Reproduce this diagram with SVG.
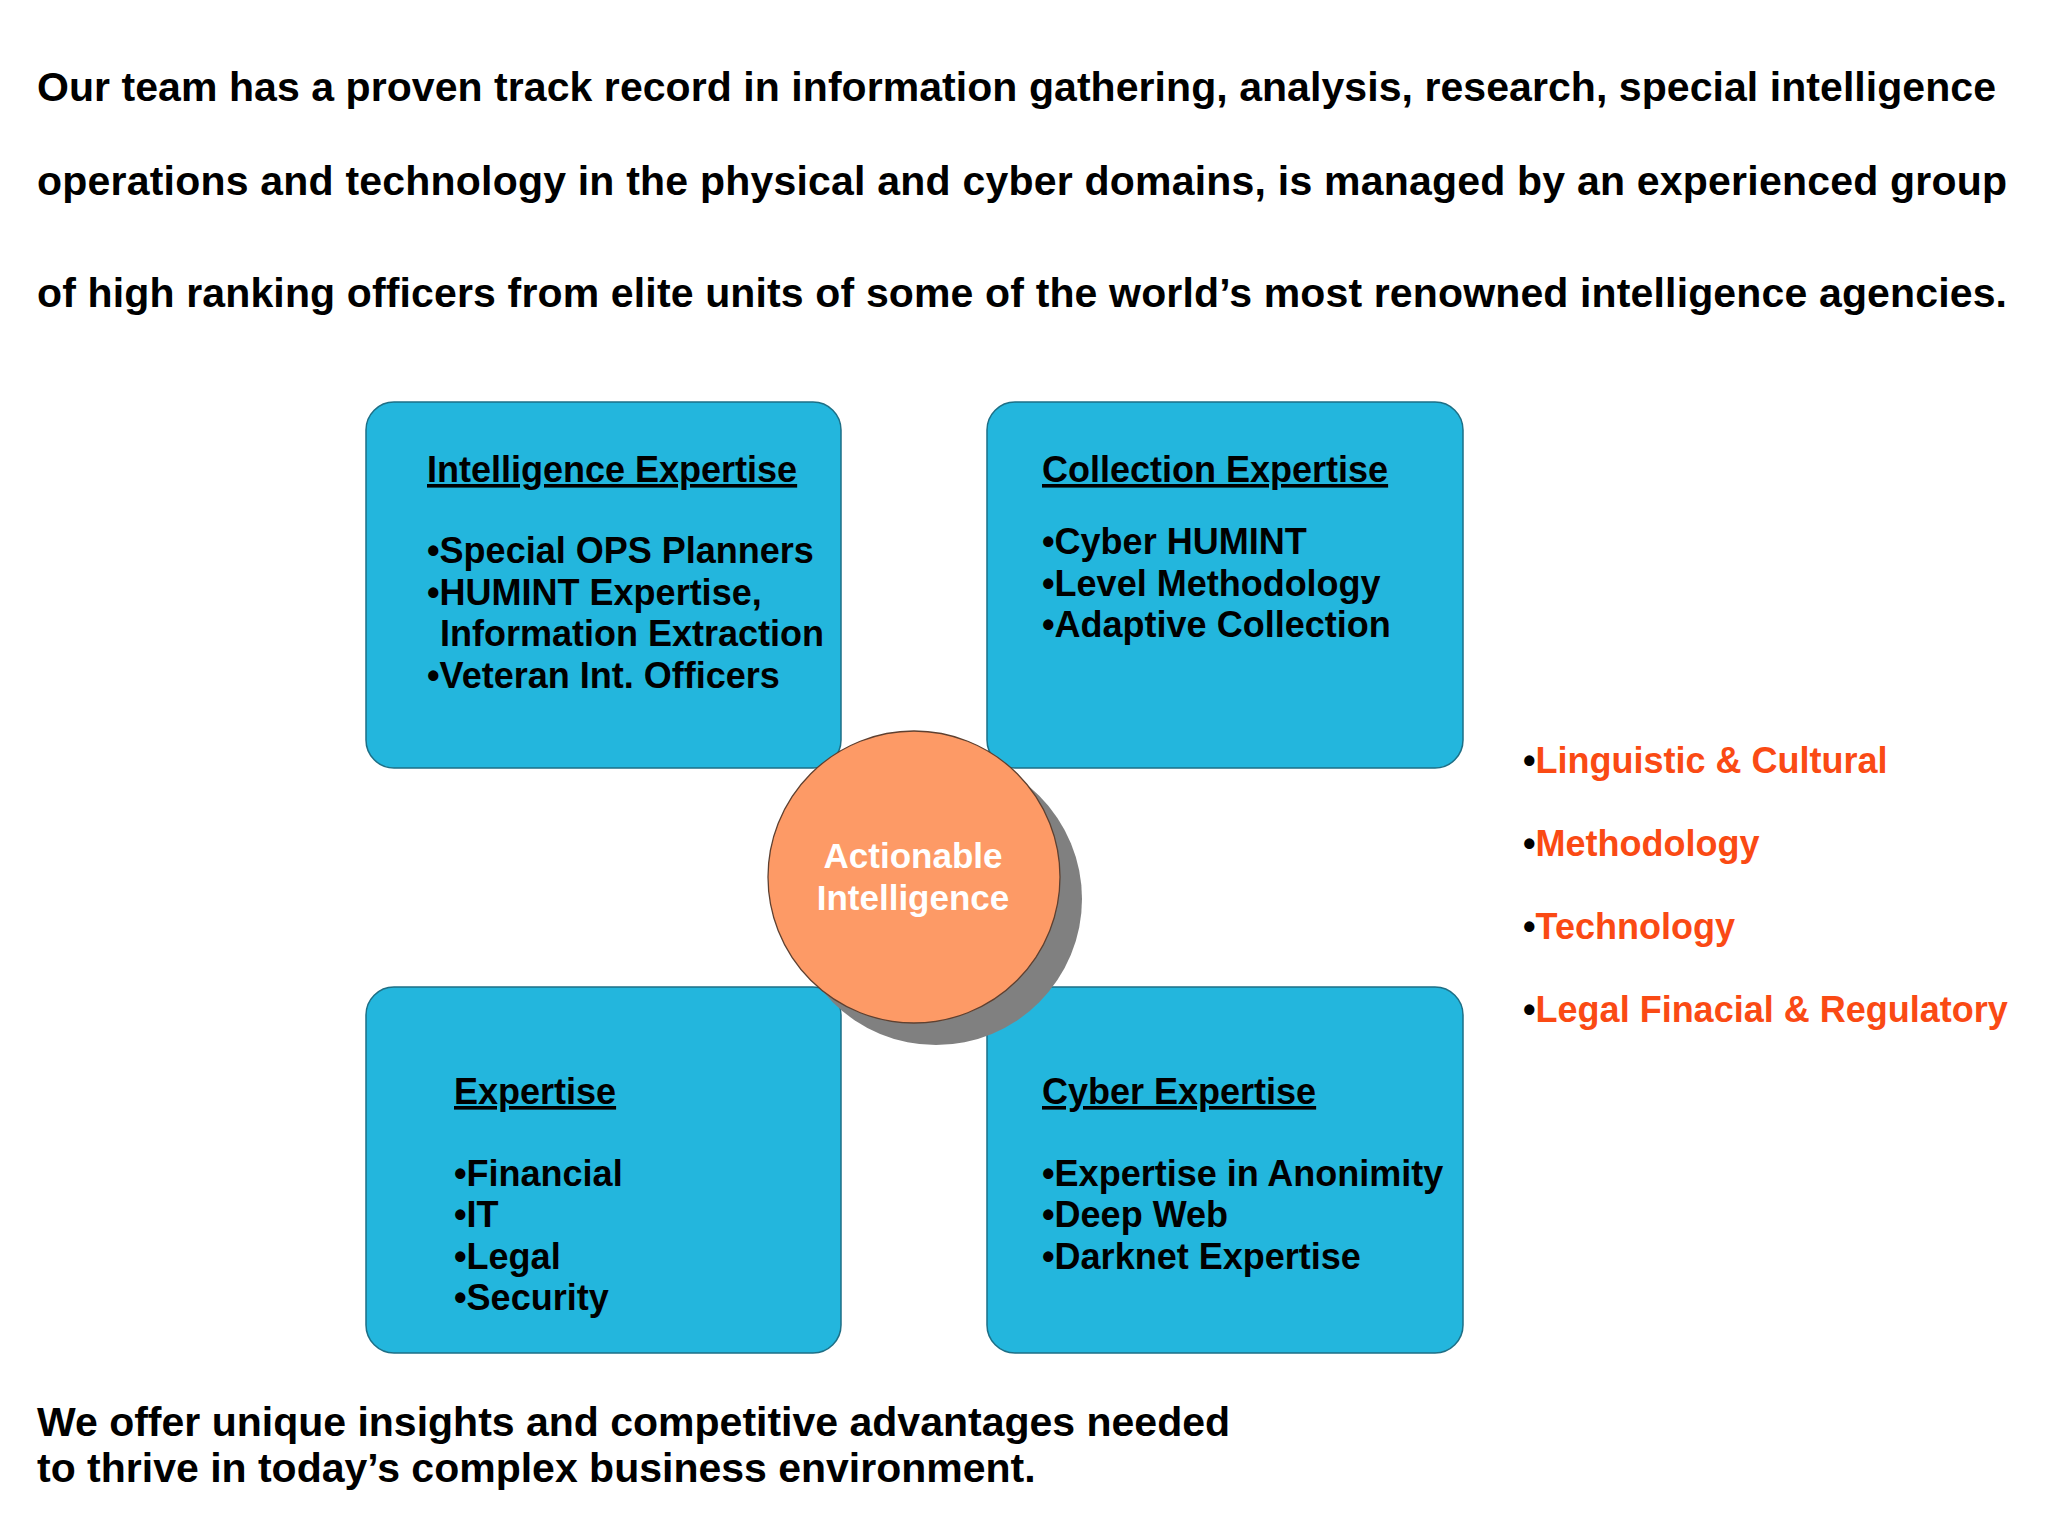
<svg xmlns="http://www.w3.org/2000/svg" width="2048" height="1535" viewBox="0 0 2048 1535">
  <style>
    .hdr { font-family: "Liberation Sans", Arial, sans-serif; font-weight: bold; font-size: 41px; fill: #000; }
    .box { fill: #23b6dd; stroke: #1d6f86; stroke-width: 1.5; }
    .bt { font-family: "Liberation Sans", Arial, sans-serif; font-weight: bold; font-size: 36px; fill: #000; }
    .ttl { text-decoration: underline; }
    .ctr { font-family: "Liberation Sans", Arial, sans-serif; font-weight: bold; font-size: 35px; fill: #fff; text-anchor: middle; }
    .rl { font-family: "Liberation Sans", Arial, sans-serif; font-weight: bold; font-size: 36px; fill: #000; }
    .red { fill: #fa4a14; }
  </style>
  <rect width="2048" height="1535" fill="#ffffff"/>

  <g id="header">
    <text class="hdr" x="37" y="101" textLength="1959">Our team has a proven track record in information gathering, analysis, research, special intelligence</text>
    <text class="hdr" x="37" y="195" textLength="1970">operations and technology in the physical and cyber domains, is managed by an experienced group</text>
    <text class="hdr" x="37" y="307" textLength="1970">of high ranking officers from elite units of some of the world’s most renowned intelligence agencies.</text>
  </g>

  <g id="connectors"></g>

  <g id="intelligence-expertise">
    <rect class="box" x="366" y="402" width="475" height="366" rx="28" ry="28"/>
    <text class="bt" x="427" y="482"><tspan class="ttl">Intelligence Expertise</tspan></text>
    <text class="bt" x="427" y="563">•Special OPS Planners</text>
    <text class="bt" x="427" y="605">•HUMINT Expertise,</text>
    <text class="bt" x="440" y="646">Information Extraction</text>
    <text class="bt" x="427" y="688">•Veteran Int. Officers</text>
  </g>

  <g id="collection-expertise">
    <rect class="box" x="987" y="402" width="476" height="366" rx="28" ry="28"/>
    <text class="bt" x="1042" y="482"><tspan class="ttl">Collection Expertise</tspan></text>
    <text class="bt" x="1042" y="554">•Cyber HUMINT</text>
    <text class="bt" x="1042" y="596">•Level Methodology</text>
    <text class="bt" x="1042" y="637">•Adaptive Collection</text>
  </g>

  <g id="expertise">
    <rect class="box" x="366" y="987" width="475" height="366" rx="28" ry="28"/>
    <text class="bt" x="454" y="1104"><tspan class="ttl">Expertise</tspan></text>
    <text class="bt" x="454" y="1186">•Financial</text>
    <text class="bt" x="454" y="1227">•IT</text>
    <text class="bt" x="454" y="1269">•Legal</text>
    <text class="bt" x="454" y="1310">•Security</text>
  </g>

  <g id="cyber-expertise">
    <rect class="box" x="987" y="987" width="476" height="366" rx="28" ry="28"/>
    <text class="bt" x="1042" y="1104"><tspan class="ttl">Cyber Expertise</tspan></text>
    <text class="bt" x="1042" y="1186">•Expertise in Anonimity</text>
    <text class="bt" x="1042" y="1227">•Deep Web</text>
    <text class="bt" x="1042" y="1269">•Darknet Expertise</text>
  </g>

  <g id="actionable-intelligence">
    <circle cx="936" cy="899" r="146" fill="#808080"/>
    <circle cx="914" cy="877" r="146" fill="#fd9a66" stroke="#5e4030" stroke-width="1.3"/>
    <text class="ctr" x="913" y="868">Actionable</text>
    <text class="ctr" x="913" y="910">Intelligence</text>
  </g>

  <g id="side-list">
    <text class="rl" x="1523" y="773">•<tspan class="red">Linguistic &amp; Cultural</tspan></text>
    <text class="rl" x="1523" y="856">•<tspan class="red">Methodology</tspan></text>
    <text class="rl" x="1523" y="939">•<tspan class="red">Technology</tspan></text>
    <text class="rl" x="1523" y="1022">•<tspan class="red">Legal Finacial &amp; Regulatory</tspan></text>
  </g>

  <g id="footer">
    <text class="hdr" x="37" y="1436">We offer unique insights and competitive advantages needed</text>
    <text class="hdr" x="37" y="1482">to thrive in today’s complex business environment.</text>
  </g>
</svg>
